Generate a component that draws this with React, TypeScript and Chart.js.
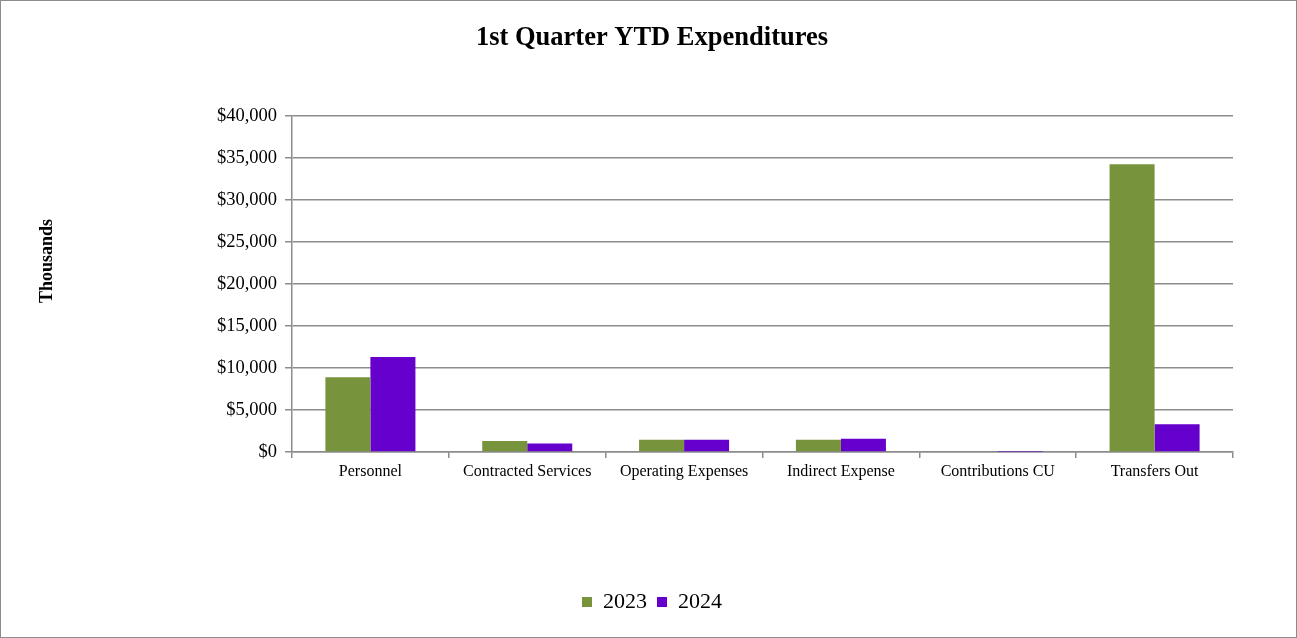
import React, { useEffect, useRef } from "react";
import { Chart, registerables } from "chart.js";

Chart.register(...registerables);

const categories = [
  "Personnel",
  "Contracted Services",
  "Operating Expenses",
  "Indirect Expense",
  "Contributions CU",
  "Transfers Out",
];
const values2023 = [8900, 1300, 1450, 1450, 0, 34250];
const values2024 = [11300, 1000, 1450, 1580, 40, 3300];
const seriesLabels = ["2023", "2024"];
const yTicks = [0, 5000, 10000, 15000, 20000, 25000, 30000, 35000, 40000];
const yAxisTitle = "Thousands";

const FONT = "'Liberation Serif', 'Times New Roman', serif";

const yTitlePlugin = {
  id: "yTitlePlugin",
  afterDraw(chart: any) {
    const c = chart.ctx;
    c.save();
    c.translate(46, 260);
    c.rotate(-Math.PI / 2);
    c.font = `bold 18px ${FONT}`;
    c.fillStyle = "#000";
    c.textAlign = "center";
    c.textBaseline = "middle";
    c.fillText(yAxisTitle, 0, 0);
    c.restore();
  },
};

export default function App() {
  const ref = useRef<HTMLCanvasElement | null>(null);

  useEffect(() => {
    document.body.style.margin = "0";
    const ctx = ref.current!;
    const chart = new Chart(ctx, {
      type: "bar",
      data: {
        labels: categories,
        datasets: [
          {
            label: seriesLabels[0],
            data: values2023,
            backgroundColor: "#77933C",
            categoryPercentage: 0.574,
            barPercentage: 1,
          },
          {
            label: seriesLabels[1],
            data: values2024,
            backgroundColor: "#6600CC",
            categoryPercentage: 0.574,
            barPercentage: 1,
          },
        ],
      },
      options: {
        animation: false,
        responsive: true,
        maintainAspectRatio: false,
        layout: { padding: { left: 70, right: 63, top: 0, bottom: 14 } },
        plugins: {
          title: {
            display: true,
            text: "1st Quarter YTD Expenditures",
            color: "#000",
            font: { family: FONT, size: 26.5, weight: "bold" },
            padding: { top: 21, bottom: 62 },
          },
          legend: {
            position: "bottom",
            labels: {
              color: "#000",
              font: { family: FONT, size: 22 },
              boxWidth: 10,
              boxHeight: 10,
              padding: 10,
            },
          },
          tooltip: { enabled: false },
        },
        scales: {
          x: {
            grid: {
              display: true,
              drawOnChartArea: false,
              drawTicks: true,
              tickLength: 6,
              color: "#8c8c8c",
              lineWidth: 1.5,
              offset: true,
            },
            border: { display: true, color: "#8c8c8c", width: 1.5 },
            ticks: {
              color: "#000",
              font: { family: FONT, size: 16 },
              padding: 4,
              maxRotation: 0,
            },
            afterFit: (scale: any) => {
              scale.height = 129;
            },
          },
          y: {
            min: 0,
            max: 40000,
            afterBuildTicks: (scale: any) => {
              scale.ticks = yTicks.map((v) => ({ value: v }));
            },
            grid: {
              color: "#8c8c8c",
              lineWidth: 1.5,
              tickLength: 7,
              drawTicks: true,
            },
            border: { display: true, color: "#8c8c8c", width: 1.5 },
            ticks: {
              color: "#000",
              font: { family: FONT, size: 18.5 },
              padding: 8,
              callback: (v: any) => "$" + Number(v).toLocaleString("en-US"),
            },
            afterFit: (scale: any) => {
              scale.width = 221;
            },
          },
        },
      },
      plugins: [yTitlePlugin],
    });
    return () => chart.destroy();
  }, []);

  return (
    <div
      style={{
        position: "absolute",
        left: 0,
        top: 0,
        width: 1297,
        height: 638,
        border: "1px solid #8c8c8c",
        boxSizing: "border-box",
        background: "#fff",
      }}
    >
      <div style={{ position: "relative", width: 1295, height: 636 }}>
        <canvas ref={ref} />
      </div>
    </div>
  );
}
